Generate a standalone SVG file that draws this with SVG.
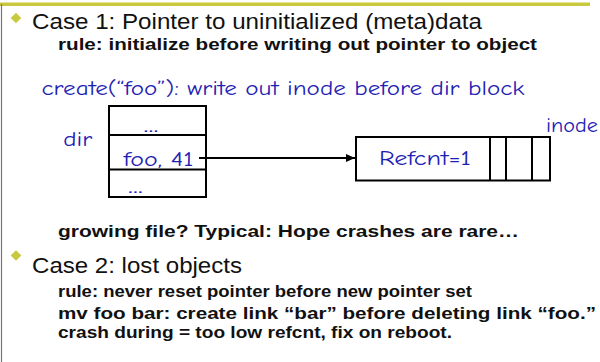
<svg xmlns="http://www.w3.org/2000/svg" width="600" height="362" viewBox="0 0 600 362">
<style>
.h{font-family:"Liberation Sans",Arial,sans-serif;font-size:21.5px;fill:#111}
.b{font-family:"Liberation Sans",Arial,sans-serif;font-size:17px;font-weight:bold;fill:#111}
.c{font-family:"Comic Sans MS","Comic Neue","DejaVu Sans",sans-serif;font-size:20px;fill:#1e22b4}
.box{fill:#fff;stroke:#000;stroke-width:2}
.div{stroke:#000;stroke-width:2}
.bul{fill:#c9c93f}
.conn{stroke:#000;stroke-width:2;fill:none}
</style>
<defs>
<marker id="ah" markerWidth="9" markerHeight="8" refX="9" refY="4" orient="auto" markerUnits="userSpaceOnUse">
<path d="M0,0 L9,4 L0,8z" fill="#000"/>
</marker>
</defs>
<rect width="600" height="362" fill="#fff"/>
<rect x="0" y="2.5" width="590" height="3.5" fill="#c9c93f"/>
<line x1="1.5" y1="4" x2="1.5" y2="362" stroke="#777" stroke-width="1.2"/>

<g id="text-case1">
<path class="bul" d="M16,12.7 L21.3,18 L16,23.3 L10.7,18z"/>
<text class="h" x="32" y="29" textLength="450" lengthAdjust="spacingAndGlyphs">Case 1: Pointer to uninitialized (meta)data</text>
<text class="b" x="58" y="50" textLength="479" lengthAdjust="spacingAndGlyphs">rule: initialize before writing out pointer to object</text>
<text class="c" x="41.5" y="95" textLength="483" lengthAdjust="spacingAndGlyphs">create(“foo”): write out inode before dir block</text>
</g>

<g id="dir">
<text class="c" x="63.3" y="145.5" textLength="29" lengthAdjust="spacingAndGlyphs">dir</text>
<rect class="box" x="109" y="106" width="97" height="91"/>
<line class="div" x1="109" y1="135" x2="206" y2="135"/>
<line class="div" x1="109" y1="169.5" x2="206" y2="169.5"/>
<text class="c" x="143.5" y="131.5" textLength="15" lengthAdjust="spacingAndGlyphs">...</text>
<text class="c" x="123.5" y="166" textLength="70" lengthAdjust="spacingAndGlyphs">foo, 41</text>
<text class="c" x="128" y="192.5" textLength="15" lengthAdjust="spacingAndGlyphs">...</text>
</g>

<g id="inode">
<rect class="box" x="356" y="137" width="194" height="43.5"/>
<line class="div" x1="490" y1="137" x2="490" y2="180.5"/>
<line class="div" x1="506" y1="137" x2="506" y2="180.5"/>
<line class="div" x1="532" y1="137" x2="532" y2="180.5"/>
<text class="c" x="379" y="165" font-size="21" textLength="92" lengthAdjust="spacingAndGlyphs">Refcnt=1</text>
<text class="c" x="546" y="131.7" textLength="52" lengthAdjust="spacingAndGlyphs">inode</text>
</g>

<g id="connectors">
<line class="conn" x1="199" y1="158" x2="355" y2="158" marker-end="url(#ah)"/>
</g>

<g id="text-case2">
<text class="b" x="58" y="236.7" textLength="461" lengthAdjust="spacingAndGlyphs">growing file?  Typical: Hope crashes are rare…</text>
<path class="bul" d="M16,250.2 L21.3,255.5 L16,260.8 L10.7,255.5z"/>
<text class="h" x="32" y="273.3" textLength="210" lengthAdjust="spacingAndGlyphs">Case 2: lost objects</text>
<text class="b" x="58" y="297.3" textLength="414" lengthAdjust="spacingAndGlyphs">rule: never reset pointer before new pointer set</text>
<text class="b" x="58" y="319" textLength="538" lengthAdjust="spacingAndGlyphs">mv foo bar: create link “bar” before deleting link “foo.”</text>
<text class="b" x="58" y="337.5" textLength="394" lengthAdjust="spacingAndGlyphs">crash during = too low refcnt, fix on reboot.</text>
</g>
</svg>
